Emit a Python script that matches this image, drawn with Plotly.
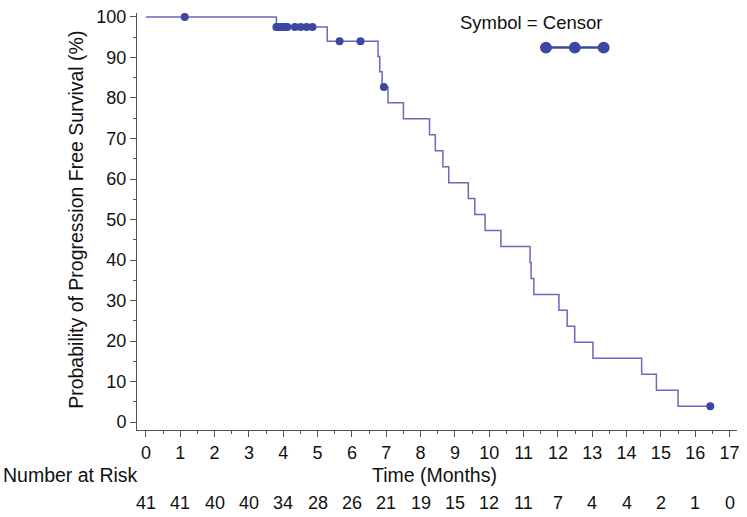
import plotly.graph_objects as go

# ---- data ----
event_times = [3.80, 5.28, 6.76, 6.81, 6.88, 7.05, 7.50, 8.26, 8.43, 8.65, 8.82,
               9.39, 9.58, 9.88, 10.34, 11.19, 11.22, 11.30, 12.03, 12.27, 12.49,
               13.02, 14.44, 14.87, 15.50]
event_surv = [97.50, 94.02, 90.26, 86.50, 82.74, 78.80, 74.86, 70.92, 66.98, 63.04,
              59.10, 55.16, 51.22, 47.28, 43.34, 39.40, 35.46, 31.52, 27.58, 23.64,
              19.70, 15.76, 11.82, 7.88, 3.94]
last_time = 16.44
last_surv = 3.94

censor_times = [1.13, 3.80, 3.85, 3.90, 3.95, 3.99, 4.05, 4.12, 4.34, 4.51, 4.68,
                4.85, 5.64, 6.25, 6.93, 16.44]
censor_surv = [100, 97.5, 97.5, 97.5, 97.5, 97.5, 97.5, 97.5, 97.5, 97.5, 97.5,
               97.5, 94.02, 94.02, 82.74, 3.94]

risk_times = list(range(0, 18))
risk_counts = [41, 41, 40, 40, 34, 28, 26, 21, 19, 15, 12, 11, 7, 4, 4, 2, 1, 0]

line_color = "#6A6AB8"
dot_color = "#3B47A0"
font = "Liberation Sans, Arial, sans-serif"

curve_x = [0] + event_times + [last_time]
curve_y = [100] + event_surv + [last_surv]

fig = go.Figure()
fig.add_trace(go.Scatter(x=curve_x, y=curve_y, mode="lines", line_shape="hv",
                         line=dict(color=line_color, width=1.5), showlegend=False,
                         hoverinfo="skip"))
fig.add_trace(go.Scatter(x=censor_times, y=censor_surv, mode="markers",
                         marker=dict(color=dot_color, size=8), showlegend=False))

W, H = 747, 517
L, R, T, B = 137, 7, 8, 87
pw = W - L - R
ph = H - T - B

def px_to_paper_x(px):
    return (px - L) / pw

def px_to_paper_y(py):
    return (H - B - py) / ph

annotations = []
for t, n in zip(risk_times, risk_counts):
    annotations.append(dict(x=t, y=px_to_paper_y(504), xref="x", yref="paper",
                            text=str(n), showarrow=False, xanchor="center",
                            yanchor="middle", font=dict(size=18, color="#111", family=font)))
annotations.append(dict(x=px_to_paper_x(140), y=px_to_paper_y(476), xref="paper", yref="paper",
                        text="Number at Risk", showarrow=False, xanchor="right",
                        yanchor="middle", font=dict(size=19.5, color="#111", family=font)))
annotations.append(dict(x=px_to_paper_x(436), y=px_to_paper_y(476), xref="paper", yref="paper",
                        text="Time (Months)", showarrow=False, xanchor="center",
                        yanchor="middle", font=dict(size=19.5, color="#111", family=font)))
annotations.append(dict(x=px_to_paper_x(75), y=px_to_paper_y(217), xref="paper", yref="paper",
                        text="Probability of Progression Free Survival (%)", showarrow=False,
                        textangle=-90, xanchor="center", yanchor="middle",
                        font=dict(size=19.5, color="#111", family=font)))
annotations.append(dict(x=px_to_paper_x(533), y=px_to_paper_y(18), xref="paper", yref="paper",
                        text="Symbol = Censor", showarrow=False, xanchor="center",
                        yanchor="middle", font=dict(size=18.5, color="#111", family=font)))

# legend sample (line with three symbols)
shapes = []
ly = px_to_paper_y(43)
shapes.append(dict(type="line", xref="paper", yref="paper",
                   x0=px_to_paper_x(548), x1=px_to_paper_x(606), y0=ly, y1=ly,
                   line=dict(color=dot_color, width=2.5)))
for cx in (548, 577, 606):
    shapes.append(dict(type="circle", xref="paper", yref="paper",
                       x0=px_to_paper_x(cx - 6), x1=px_to_paper_x(cx + 6),
                       y0=px_to_paper_y(43 + 6), y1=px_to_paper_y(43 - 6),
                       fillcolor=dot_color, line=dict(color=dot_color, width=0)))

x0_px, px_per_unit_x = 146, 34.5
y0_px, px_per_unit_y = 422, 4.1
xr = [(L - x0_px) / px_per_unit_x, (W - R - x0_px) / px_per_unit_x]
yr = [-(H - B - y0_px) / px_per_unit_y, (y0_px - T) / px_per_unit_y]

fig.update_layout(
    width=W, height=H,
    margin=dict(l=L, r=R, t=T, b=B),
    paper_bgcolor="white", plot_bgcolor="white",
    font=dict(family=font, size=18, color="#111"),
    annotations=annotations, shapes=shapes,
    showlegend=False,
    xaxis=dict(range=xr, tickmode="array", tickvals=risk_times,
               ticktext=[str(t) for t in risk_times],
               showgrid=False, zeroline=False, showline=True, linecolor="#555",
               linewidth=1, ticks="outside", ticklen=6, tickcolor="#555",
               minor=dict(tickvals=[t + 0.5 for t in risk_times[:-1]], ticks="outside",
                          ticklen=3, tickcolor="#555"),
               tickfont=dict(size=18, color="#111", family=font)),
    yaxis=dict(range=yr, tickmode="array", tickvals=list(range(0, 101, 10)),
               showgrid=False, zeroline=False, showline=True, linecolor="#555",
               linewidth=1, ticks="outside", ticklen=6, tickcolor="#555",
               minor=dict(tickvals=list(range(5, 100, 10)), ticks="outside",
                          ticklen=3, tickcolor="#555"),
               tickfont=dict(size=18, color="#111", family=font)),
)

fig.write_html("out.html", config={"displayModeBar": False},
               post_script="document.body.style.margin='0';document.body.style.overflow='hidden';")
